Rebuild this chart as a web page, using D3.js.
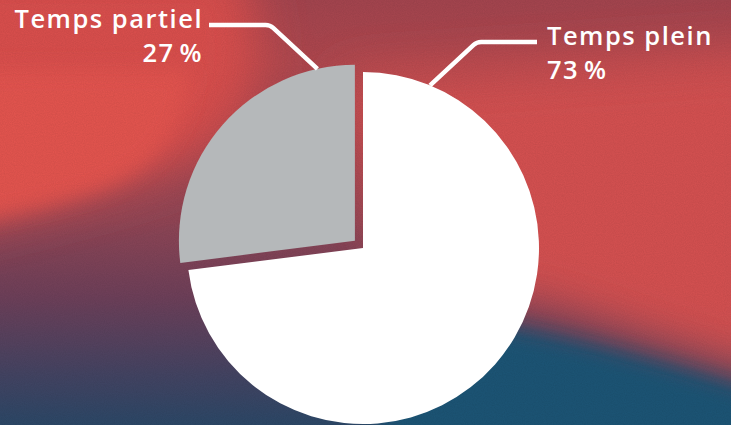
<!DOCTYPE html>
<html>
<head>
<meta charset="utf-8">
<script src="https://cdn.jsdelivr.net/npm/d3@7"></script>
<style>
  html, body { margin: 0; padding: 0; overflow: hidden; background: #6a3f58; }
  svg { display: block; }
</style>
</head>
<body>
<svg id="chart"></svg>
<script>
// data
const categories = ['Temps plein', 'Temps partiel'];
const values = [73, 27];
const valueLabels = ['73\u202F%', '27\u202F%'];
const sliceColors = ['#ffffff', '#b5b8ba'];

const W = 731, H = 425;
const CX = 363, CY = 248, R = 176;

const svg = d3.select('#chart').attr('width', W).attr('height', H);
const defs = svg.append('defs');

// --- background -------------------------------------------------------
const base = defs.append('linearGradient').attr('id', 'bgBase')
  .attr('x1', 0).attr('y1', 0).attr('x2', 0).attr('y2', 1);
[['0%', '#a5454f'], ['15%', '#b0484f'], ['52%', '#914656'], ['70%', '#6e405a'], ['88%', '#444463'], ['100%', '#2c4868']]
  .forEach(s => base.append('stop').attr('offset', s[0]).attr('stop-color', s[1]));

defs.append('filter').attr('id', 'soft').attr('x', '-30%').attr('y', '-30%').attr('width', '160%').attr('height', '160%')
  .append('feGaussianBlur').attr('stdDeviation', 24);
defs.append('filter').attr('id', 'softer').attr('x', '-30%').attr('y', '-30%').attr('width', '160%').attr('height', '160%')
  .append('feGaussianBlur').attr('stdDeviation', 10);

const grain = defs.append('filter').attr('id', 'grain');
grain.append('feTurbulence').attr('type', 'fractalNoise').attr('baseFrequency', 0.9).attr('numOctaves', 2).attr('seed', 3);
grain.append('feColorMatrix').attr('type', 'matrix')
  .attr('values', '0 0 0 0 0  0 0 0 0 0  0 0 0 0 0  0 0 0 0.09 0');

const bg = svg.append('g');
bg.append('rect').attr('width', W).attr('height', H).attr('fill', 'url(#bgBase)');

const glow = bg.append('g').attr('filter', 'url(#soft)');
// warm band on the right
glow.append('path').attr('d', 'M340,80 L780,50 L780,385 L560,312 L400,275 Z').attr('fill', '#d65151');
// upper left red
glow.append('path').attr('d', 'M-60,-40 L240,-40 Q300,120 170,170 Q80,200 -60,230 Z').attr('fill', '#db504e');

const sharp = bg.append('g').attr('filter', 'url(#softer)');
sharp.append('path').attr('d', 'M-60,70 L190,70 Q185,150 110,185 Q50,208 -60,226 Z').attr('fill', '#e5544f');
sharp.append('path').attr('d', 'M380,330 L480,322 Q600,342 780,400 L780,470 L380,470 Z').attr('fill', '#1d5476');

bg.append('rect').attr('width', W).attr('height', H).attr('filter', 'url(#grain)');

// --- pie ---------------------------------------------------------------
const pie = d3.pie().sort(null).value(d => d.value);
const data = pie(categories.map((c, i) => ({ name: c, value: values[i], label: valueLabels[i], color: sliceColors[i] })));
const arc = d3.arc().innerRadius(0).outerRadius(R);
const explode = [0, 10.8];

const g = svg.append('g').attr('transform', `translate(${CX},${CY})`);
g.selectAll('path.slice').data(data).enter().append('path')
  .attr('class', 'slice')
  .attr('d', arc)
  .attr('fill', d => d.data.color)
  .attr('transform', (d, i) => {
    const a = (d.startAngle + d.endAngle) / 2;
    return `translate(${Math.sin(a) * explode[i]},${-Math.cos(a) * explode[i]})`;
  });

// --- leader lines and labels ---------------------------------------------
const leaderAngle = [22.4, -12.3];        // degrees, where the line meets the arc
const leaderY = [42, 25];                 // y of horizontal run
const leaderEndX = [537, 209];
const labelX = [547, 203];
const labelAnchor = ['start', 'end'];
const labelY = [45, 28];

data.forEach((d, i) => {
  const a = (d.startAngle + d.endAngle) / 2;
  const ox = CX + Math.sin(a) * explode[i], oy = CY - Math.cos(a) * explode[i];
  const t = leaderAngle[i] * Math.PI / 180;
  const x0 = ox + Math.sin(t) * R, y0 = oy - Math.cos(t) * R;
  const dir = leaderEndX[i] > x0 ? 1 : -1;
  const rise = y0 - leaderY[i];
  const cornerX = x0 + dir * rise * 1.08;
  const p = d3.path();
  p.moveTo(x0, y0);
  p.arcTo(cornerX, leaderY[i], leaderEndX[i], leaderY[i], 11);
  p.lineTo(leaderEndX[i], leaderY[i]);
  svg.append('path').attr('d', p.toString())
    .attr('fill', 'none').attr('stroke', '#fff').attr('stroke-width', 4.5);

  const txt = svg.append('text')
    .attr('x', labelX[i]).attr('y', labelY[i])
    .attr('text-anchor', labelAnchor[i])
    .attr('fill', '#fff')
    .style('font-family', '"Open Sans", sans-serif')
    .style('font-weight', 600)
    .style('font-size', '25.5px')
    .style('letter-spacing', '1.5px');
  txt.append('tspan').attr('x', labelX[i]).text(d.data.name);
  txt.append('tspan').attr('x', labelX[i]).attr('dy', 34).text(d.data.label);
});
</script>
</body>
</html>
